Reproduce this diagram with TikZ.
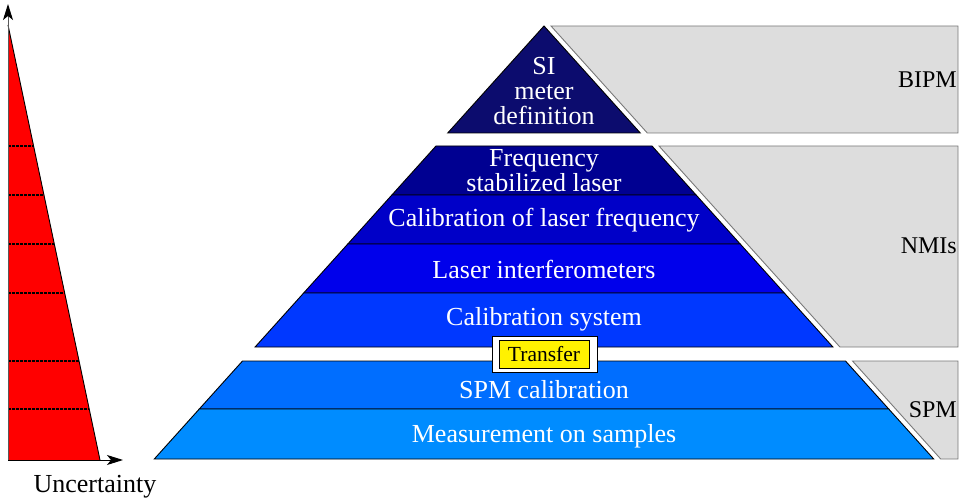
\documentclass[tikz,border=0pt]{standalone}
\usepackage{fontspec}
\setmainfont{Liberation Serif}
\usetikzlibrary{arrows.meta}

\definecolor{sicol}{RGB}{12,12,110}
\definecolor{freqcol}{RGB}{0,0,145}
\definecolor{calfcol}{RGB}{0,0,200}
\definecolor{intfcol}{RGB}{0,0,235}
\definecolor{calscol}{RGB}{0,56,255}
\definecolor{spmcol}{RGB}{0,110,255}
\definecolor{meascol}{RGB}{0,140,255}
\definecolor{bandgray}{RGB}{221,221,221}
\definecolor{bandedge}{RGB}{120,120,120}

\tikzset{
  layer/.style={draw=black, line width=0.9pt},
  lbl/.style={text=white, align=center, font=\fontsize{26}{25}\selectfont},
  band/.style={fill=bandgray, draw=bandedge, line width=0.9pt},
  org/.style={anchor=east, inner sep=0pt, font=\fontsize{24}{26}\selectfont},
  level/.style={dash pattern=on 2.5pt off 1.5pt, line width=1.1pt},
  axis/.style={line width=1pt, -{Stealth[length=16pt,width=10pt,inset=4pt]}}
}

\begin{document}
\begin{tikzpicture}[x=1pt,y=-1pt]
\useasboundingbox (0,0) rectangle (960,502);

% uncertainty wedge
\coordinate (origin) at (8,460);
\coordinate (ytip) at (8,4);
\coordinate (xtip) at (123,460);
\coordinate (wtop) at (8,25);
\coordinate (wfoot) at (100,460);
\fill[red] (wtop) -- (wfoot) -- (origin) -- cycle;
\draw[line width=0.9pt] (wtop) -- (wfoot);
\foreach \y/\x in {146/33.6, 195/44.0, 244/54.3, 293/64.7, 361/79.1, 409/89.2}
  \draw[level] (8,\y) -- (\x,\y);
\draw[axis, draw=black!65, -{Stealth[length=16pt,width=10pt,inset=4pt,black]}] (origin) -- (ytip);
\draw[axis] (origin) -- (xtip);
\node[font=\fontsize{26}{28}\selectfont] (uncert) at (95,487) {Uncertainty};

% grey bands
\draw[band] (551,26) -- (958,26) -- (958,133) -- (647.3,133) -- cycle;
\draw[band] (659,146) -- (958,146) -- (958,347) -- (839.9,347) -- cycle;
\draw[band] (852.5,361) -- (958,361) -- (958,459) -- (940.7,459) -- cycle;
\node[org] (bipm) at (957,80) {BIPM};
\node[org] (nmis) at (957,246) {NMIs};
\node[org] (spm) at (957,410) {SPM};

% pyramid
\draw[layer, fill=sicol] (544,26) -- (640.3,133) -- (447.7,133) -- cycle;
\draw[layer, fill=freqcol] (436,146) -- (652,146) -- (696.1,195) -- (391.9,195) -- cycle;
\draw[layer, fill=calfcol] (391.9,195) -- (696.1,195) -- (740.2,244) -- (347.8,244) -- cycle;
\draw[layer, fill=intfcol] (347.8,244) -- (740.2,244) -- (784.3,293) -- (303.7,293) -- cycle;
\draw[layer, fill=calscol] (303.7,293) -- (784.3,293) -- (832.9,347) -- (255.1,347) -- cycle;
\draw[layer, fill=spmcol] (242.5,361) -- (845.5,361) -- (888.7,409) -- (199.3,409) -- cycle;
\draw[layer, fill=meascol] (199.3,409) -- (888.7,409) -- (933.7,459) -- (154.3,459) -- cycle;

\node[lbl] (si) at (544,91) {SI\\meter\\definition};
\node[lbl] (freq) at (544,171) {Frequency\\stabilized laser};
\node[lbl] (calf) at (544,220) {Calibration of laser frequency};
\node[lbl] (intf) at (544,269) {Laser interferometers};
\node[lbl] (cals) at (544,319) {Calibration system};
\node[lbl] (spmcal) at (544,390) {SPM calibration};
\node[lbl] (meas) at (544,436) {Measurement on samples};

% transfer
\node[fill=white, draw, line width=0.9pt, minimum width=105, minimum height=36] (transferbox) at (544.5,354) {};
\node[fill=yellow, draw, line width=0.9pt, minimum width=90, minimum height=28, inner sep=0pt,
  font=\fontsize{21.5}{22}\selectfont] (transfer) at (544,354.5) {Transfer};
\end{tikzpicture}
\end{document}
